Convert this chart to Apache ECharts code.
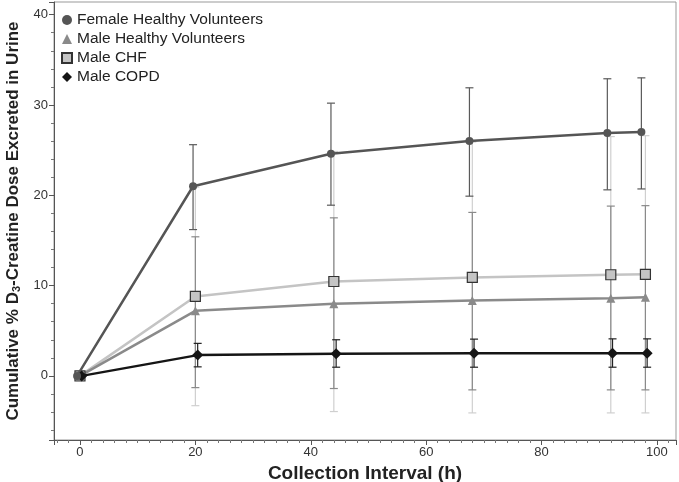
<!DOCTYPE html>
<html>
<head>
<meta charset="utf-8">
<script src="https://cdn.jsdelivr.net/npm/echarts@6/dist/echarts.min.js"></script>
<style>
  html, body { margin: 0; padding: 0; background: #fff; }
  #chart { width: 679px; height: 482px; }
</style>
</head>
<body>
<div id="chart"></div>
<script>
// collection times (h), slightly dodged per group as in the figure
var hours = [0, 20, 44, 68, 92, 98];
var femaleHours = [-0.5, 19.6, 43.5, 67.5, 91.4, 97.3];
var copdHours = [0.3, 20.4, 44.4, 68.3, 92.3, 98.3];

var femaleMean = [0, 21.0, 24.6, 26.0, 26.9, 27.0];
var femaleLow = [0, 16.2, 18.9, 19.9, 20.6, 20.7];
var femaleHigh = [0, 25.6, 30.2, 31.9, 32.9, 33.0];

var maleMean = [0, 7.2, 8.0, 8.35, 8.6, 8.7];
var maleLow = [0, -1.3, -1.4, -1.55, -1.55, -1.55];
var maleHigh = [0, 15.4, 17.5, 18.1, 18.8, 18.85];

var chfMean = [0, 8.8, 10.45, 10.9, 11.2, 11.25];
var chfLow = [0, -3.3, -3.95, -4.1, -4.1, -4.1];
var chfHigh = [0, 20.9, 24.85, 25.9, 26.5, 26.6];

var copdMean = [0, 2.3, 2.45, 2.5, 2.5, 2.5];
var copdLow = [0, 1.0, 0.96, 0.96, 0.96, 0.96];
var copdHigh = [0, 3.6, 4.0, 4.07, 4.1, 4.1];

var names = ["Female Healthy Volunteers", "Male Healthy Volunteers", "Male CHF", "Male COPD"];

function pairs(xs, ys) {
  return xs.map(function (x, i) { return [x, ys[i]]; });
}
function bars(xs, lo, hi) {
  return xs.map(function (x, i) { return [x, lo[i], hi[i]]; });
}

// error bar drawing
function errorSeries(name, data, color) {
  return {
    name: name + " (range)",
    type: "custom",
    z: 1,
    data: data,
    itemStyle: { color: color },
    encode: { x: 0, y: [1, 2] },
    renderItem: function (params, api) {
      var lo = api.value(1), hi = api.value(2);
      if (lo === hi) return null;
      var p1 = api.coord([api.value(0), hi]);
      var p2 = api.coord([api.value(0), lo]);
      var w = 4;
      var st = { stroke: color, lineWidth: 1.2 };
      return {
        type: "group",
        children: [
          { type: "line", shape: { x1: p1[0], y1: p1[1], x2: p2[0], y2: p2[1] }, style: st },
          { type: "line", shape: { x1: p1[0] - w, y1: p1[1], x2: p1[0] + w, y2: p1[1] }, style: st },
          { type: "line", shape: { x1: p2[0] - w, y1: p2[1], x2: p2[0] + w, y2: p2[1] }, style: st }
        ]
      };
    }
  };
}

var chart = echarts.init(document.getElementById("chart"));

var font = "Liberation Sans, Arial, sans-serif";

var option = {
  animation: false,
  grid: {
    left: 54,
    right: 3,
    top: 2,
    bottom: 42,
    outerBoundsMode: "none",
    containLabel: false,
    show: true,
    borderColor: "#999",
    borderWidth: 1
  },
  legend: {
    orient: "vertical",
    left: 56,
    top: 7,
    itemWidth: 10,
    itemHeight: 10,
    itemGap: 3,
    textStyle: { fontFamily: font, fontSize: 15.5, color: "#222" },
    data: [
      { name: names[0], icon: "circle" },
      { name: names[1], icon: "triangle" },
      { name: names[2], icon: "rect" },
      { name: names[3], icon: "diamond" }
    ]
  },
  xAxis: {
    type: "value",
    min: -4.5,
    max: 103.3,
    splitNumber: 5,
    name: "Collection Interval (h)",
    nameLocation: "middle",
    nameGap: 15,
    nameTextStyle: { fontFamily: font, fontSize: 19, fontWeight: "bold", color: "#222" },
    axisLine: { onZero: false, lineStyle: { color: "#555" } },
    axisTick: { show: true, length: 5, lineStyle: { color: "#555" } },
    minorTick: { show: true, splitNumber: 10, length: 3, lineStyle: { color: "#777" } },
    axisLabel: {
      showMinLabel: false,
      showMaxLabel: false,
      fontFamily: font,
      fontSize: 13,
      color: "#333",
      margin: 6
    },
    splitLine: { show: false }
  },
  yAxis: {
    type: "value",
    min: -7.1,
    max: 41.4,
    splitNumber: 5,
    name: "Cumulative % D{sub|3}-Creatine Dose Excreted in Urine",
    nameLocation: "middle",
    nameGap: 32,
    nameTextStyle: {
      fontFamily: font,
      fontSize: 17,
      fontWeight: "bold",
      color: "#222",
      rich: {
        sub: { fontFamily: font, fontSize: 11, fontWeight: "bold", color: "#222", verticalAlign: "bottom", padding: [7, 0, 0, 0] }
      }
    },
    axisLine: { show: true, onZero: false, lineStyle: { color: "#555" } },
    axisTick: { show: true, length: 5, lineStyle: { color: "#555" } },
    minorTick: { show: true, splitNumber: 5, length: 3, lineStyle: { color: "#777" } },
    axisLabel: {
      showMinLabel: false,
      showMaxLabel: false,
      fontFamily: font,
      fontSize: 13,
      color: "#333",
      margin: 6
    },
    splitLine: { show: false }
  },
  series: [
    {
      name: names[2],
      type: "line",
      z: 3,
      data: pairs(hours, chfMean),
      symbol: "rect",
      symbolSize: 10,
      lineStyle: { color: "#c4c4c4", width: 2.5 },
      itemStyle: { color: "#c4c4c4", borderColor: "#333", borderWidth: 1.2 }
    },
    {
      name: names[1],
      type: "line",
      z: 3,
      data: pairs(hours, maleMean),
      symbol: "triangle",
      symbolSize: 9,
      lineStyle: { color: "#8a8a8a", width: 2.5 },
      itemStyle: { color: "#8a8a8a" }
    },
    {
      name: names[3],
      type: "line",
      z: 4,
      data: pairs(copdHours, copdMean),
      symbol: "diamond",
      symbolSize: 11,
      lineStyle: { color: "#151515", width: 2.5 },
      itemStyle: { color: "#151515" }
    },
    {
      name: names[0],
      type: "line",
      z: 4,
      data: pairs(femaleHours, femaleMean),
      symbol: "circle",
      symbolSize: 8,
      lineStyle: { color: "#555", width: 2.5 },
      itemStyle: { color: "#555" }
    },
    errorSeries(names[2], bars(hours, chfLow, chfHigh), "#cfcfcf"),
    errorSeries(names[1], bars(hours, maleLow, maleHigh), "#8a8a8a"),
    errorSeries(names[0], bars(femaleHours, femaleLow, femaleHigh), "#5a5a5a"),
    errorSeries(names[3], bars(copdHours, copdLow, copdHigh), "#222")
  ]
};

chart.setOption(option);
</script>
</body>
</html>
